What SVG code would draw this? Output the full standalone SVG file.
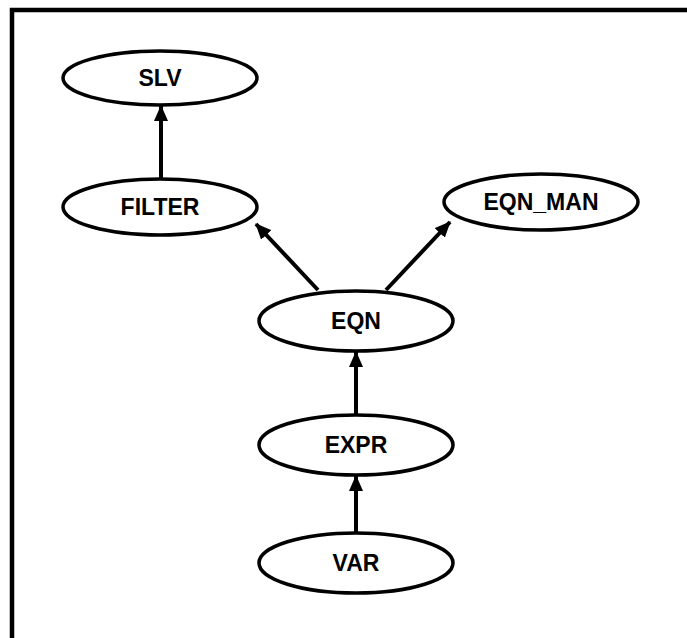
<svg xmlns="http://www.w3.org/2000/svg" width="687" height="638" viewBox="0 0 687 638">
<style>
.n ellipse{fill:#fff;stroke:#000;stroke-width:3.5}
.n text{font-family:"Liberation Sans",Arial,sans-serif;font-size:23px;font-weight:bold;text-anchor:middle;fill:#000}
.e line{stroke:#000;stroke-width:4}
</style>
<defs>
<marker id="ah" viewBox="0 0 16 14" refX="15" refY="7" markerWidth="16" markerHeight="14" markerUnits="userSpaceOnUse" orient="auto">
<path d="M0,0 L16,7 L0,14 z" fill="#000"/>
</marker>
</defs>
<rect width="687" height="638" fill="#fff"/>
<path d="M12,638 V10 H687" fill="none" stroke="#000" stroke-width="4.5"/>
<g class="e">
<line x1="161" y1="180" x2="161" y2="106" marker-end="url(#ah)"/>
<line x1="318" y1="290" x2="256" y2="224" marker-end="url(#ah)"/>
<line x1="386" y1="290" x2="450" y2="222" marker-end="url(#ah)"/>
<line x1="356" y1="414" x2="356" y2="352" marker-end="url(#ah)"/>
<line x1="356" y1="532" x2="356" y2="476" marker-end="url(#ah)"/>
</g>
<g id="SLV" class="n"><ellipse cx="160" cy="78" rx="97" ry="27"/><text x="160" y="86">SLV</text></g>
<g id="FILTER" class="n"><ellipse cx="160" cy="207" rx="97" ry="28"/><text x="160" y="215">FILTER</text></g>
<g id="EQN_MAN" class="n"><ellipse cx="541" cy="202" rx="97" ry="28"/><text x="541" y="210">EQN_MAN</text></g>
<g id="EQN" class="n"><ellipse cx="356" cy="321" rx="97" ry="30"/><text x="356" y="329">EQN</text></g>
<g id="EXPR" class="n"><ellipse cx="356" cy="445" rx="97" ry="30"/><text x="356" y="453">EXPR</text></g>
<g id="VAR" class="n"><ellipse cx="356" cy="563" rx="97" ry="30"/><text x="356" y="571">VAR</text></g>
</svg>
